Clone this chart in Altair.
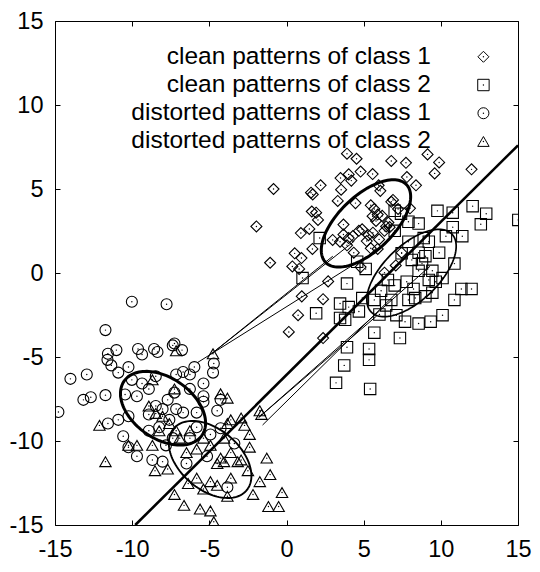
import altair as alt
import numpy as np
import pandas as pd

# ---------------- data ----------------
clean_class1 = [
    (3.92, 7.1), (4.54, 6.8), (6.79, 6.67), (7.74, 6.56), (9.14, 7.06), (9.89, 6.58),
    (9.6, 5.93), (11.99, 6.17), (4.8, 6.04), (5.58, 5.89), (4.03, 5.87), (3.5, 5.65),
    (4.2, 5.5), (7.8, 5.71), (8.39, 5.22), (-0.84, 5.0), (2.21, 5.22), (1.59, 4.78),
    (1.7, 4.68), (3.32, 4.29), (3.54, 4.96), (4.47, 4.16), (5.97, 5.22), (6.08, 4.89),
    (-1.95, 2.77), (1.92, 3.59), (1.64, 3.66), (2.04, 3.16), (1.48, 2.62), (0.93, 2.38),
    (3.69, 2.88), (2.99, 1.97), (4.69, 2.51), (4.03, 2.08), (5.31, 2.25), (1.68, 1.43),
    (0.53, 1.17), (0.97, 0.89), (0.38, 0.39), (0.82, 0.24), (-1.06, 0.61), (0.99, -1.39),
    (0.75, -2.51), (0.15, -3.51), (2.37, -1.56), (2.7, -0.5), (2.37, -3.87), (6.35, 0.02),
    (7.08, 0.45), (7.46, 1.21), (5.91, 1.43), (5.46, 1.47), (6.79, 4.24), (6.9, 4.35),
    (8.0, 3.85), (7.23, 3.81), (5.46, 4.03), (5.69, 3.81), (5.58, 3.38), (6.46, 2.77),
    (6.68, 2.73), (6.35, 2.51), (3.69, 2.29), (3.47, 1.86), (3.92, 1.65), (4.36, 1.21),
    (4.8, 0.35), (5.91, 3.48), (5.8, 3.1), (6.2, 3.4), (4.9, 2.6), (5.2, 1.9),
    (6.6, 3.0), (4.3, 2.2), (5.6, 2.4), (6.0, 2.0),
]
clean_class2 = [
    (15.02, 3.16), (12.06, 3.98), (12.94, 3.53), (12.59, 2.9), (10.77, 3.59), (9.78, 3.7),
    (11.39, 2.19), (10.77, 2.73), (10.33, 2.19), (7.9, 3.05), (7.42, 3.53), (7.01, 3.7),
    (7.01, 2.51), (8.56, 2.94), (8.89, 2.08), (9.22, 1.86), (2.15, 2.08), (7.46, 1.17),
    (8.56, 1.21), (8.78, 0.56), (9.89, 1.21), (10.88, 0.56), (10.11, -0.3), (9.67, -0.52),
    (9.22, -0.41), (11.33, -0.95), (11.99, -0.95), (10.88, -1.6), (10.11, -2.51), (9.34, -2.9),
    (8.56, -3.01), (7.68, -2.9), (7.35, -3.87), (7.12, -2.51), (6.02, -2.47), (6.13, -1.06),
    (5.69, -1.6), (4.91, -1.49), (4.69, -2.29), (4.03, -2.03), (3.47, -1.82), (3.47, -2.68),
    (3.8, -2.79), (1.92, -2.4), (3.92, -4.42), (5.69, -3.55), (5.35, -4.52), (5.35, -5.17),
    (3.74, -5.5), (3.21, -6.54), (5.42, -6.9), (1.04, -0.3), (4.58, 0.67), (5.13, 0.24),
    (3.92, -0.63), (6.57, -0.41), (7.01, -0.74), (7.79, -0.52), (8.23, -0.95), (8.34, -1.49),
    (9.0, -1.39), (9.45, 0.13), (8.12, 0.78), (8.56, 0.13), (6.79, -1.6), (6.46, -1.93),
    (7.9, -1.6), (9.45, -1.17), (9.0, 1.0), (7.9, 1.86),
]
distorted_class1 = [
    (-14.78, -8.27), (-14.0, -6.3), (-13.16, -7.55), (-12.94, -6.04), (-12.68, -7.4),
    (-11.73, -7.27), (-11.73, -3.4), (-11.57, -8.96), (-10.02, -1.71), (-7.77, -1.86),
    (-11.57, -4.81), (-11.6, -5.17), (-11.02, -4.59), (-11.35, -5.5), (-10.9, -5.93),
    (-10.24, -5.6), (-9.62, -4.52), (-9.36, -4.85), (-8.58, -4.52), (-8.36, -4.7),
    (-7.26, -4.2), (-6.77, -4.59), (-7.37, -4.31), (-6.7, -5.89), (-5.97, -5.6),
    (-5.38, -6.58), (-4.71, -5.39), (-4.76, -5.93), (-4.49, -8.2), (-4.27, -9.24),
    (-3.38, -10.15), (-3.83, -12.75), (-6.26, -6.04), (-7.15, -6.04), (-7.26, -7.12),
    (-8.92, -6.9), (-9.36, -6.58), (-8.47, -6.15), (-10.02, -6.36), (-9.69, -7.34),
    (-10.46, -7.23), (-10.24, -8.53), (-10.9, -8.74), (-10.58, -9.72), (-10.24, -10.37),
    (-9.69, -10.91), (-8.69, -11.13), (-8.03, -11.23), (-8.92, -9.39), (-8.25, -9.18),
    (-7.59, -8.74), (-7.15, -8.1), (-6.7, -8.31), (-5.82, -8.31), (-5.38, -7.66),
    (-6.26, -9.83), (-7.37, -9.83), (-5.82, -9.18), (-4.93, -9.61), (-5.15, -10.91),
    (-6.48, -11.34), (-7.81, -10.26), (-8.47, -7.92), (-7.7, -7.55), (-8.92, -8.42),
    (-8.03, -8.1), (-6.26, -6.9), (-5.38, -7.34), (-4.27, -7.55),
]
distorted_class2 = [
    (-12.12, -9.07), (-11.73, -11.23), (-10.24, -10.26), (-9.69, -10.26), (-8.69, -10.26),
    (-8.52, -11.77), (-8.69, -6.36), (-7.15, -4.63), (-7.26, -6.9), (-7.7, -11.67),
    (-7.26, -13.18), (-6.64, -13.83), (-6.37, -12.53), (-5.6, -14.05), (-4.93, -14.16),
    (-4.71, -14.81), (-4.76, -4.81), (-4.27, -7.19), (-3.83, -7.45), (-3.83, -8.96),
    (-3.61, -8.74), (-2.94, -8.63), (-2.72, -9.07), (-1.73, -8.2), (-1.62, -8.42),
    (-2.39, -9.61), (-2.39, -10.37), (-1.28, -11.02), (-1.06, -12.0), (-1.73, -12.42),
    (-2.17, -13.18), (-1.17, -13.9), (-0.51, -13.9), (-0.29, -13.07), (-2.5, -11.77),
    (-3.16, -11.23), (-3.61, -12.21), (-3.83, -13.29), (-4.49, -12.64), (-4.93, -12.42),
    (-5.38, -12.86), (-5.82, -12.21), (-4.05, -11.23), (-4.27, -11.02), (-4.49, -11.34),
    (-3.61, -10.69), (-2.94, -11.13), (-4.93, -10.26), (-4.05, -9.83), (-6.48, -10.69),
    (-6.92, -9.83), (-8.25, -9.39), (-8.03, -8.53), (-7.59, -8.96), (-7.15, -9.39),
    (-8.92, -7.92), (-8.47, -8.36), (-6.26, -9.39), (-5.38, -9.83), (-5.82, -10.48),
]

series_names = [
    "clean patterns of class 1",
    "clean patterns of class 2",
    "distorted patterns of class 1",
    "distorted patterns of class 2",
]
series_shapes = ["diamond", "square", "circle", "triangle-up"]
series_sizes = [121, 130, 121, 130]

# thin segments linking distorted patterns to clean ones
seg_start = [(-4.85, -4.8), (-4.85, -4.8), (-5.8, -5.35), (-1.8, -8.6), (-1.55, -9.05), (-1.8, -8.6)]
seg_end = [(3.0, 1.0), (4.4, 1.9), (4.7, 0.7), (9.3, 0.4), (7.45, -0.9), (5.85, -2.55)]

# thick separating line
sep_start = (-9.8, -15.0)
sep_end = (15.0, 7.6)

# ellipses: centre, semi-axes, rotation (degrees), stroke width
ell_cx = [5.15, 8.1, -8.0, -4.95]
ell_cy = [2.95, 0.0, -8.05, -11.1]
ell_a = [3.5, 3.5, 3.0, 3.0]
ell_b = [1.7, 1.7, 1.85, 1.85]
ell_rot = [40, 40, -30, -35]
ell_w = [3.0, 1.7, 3.0, 1.9]

# legend placement (data coordinates)
legend_y = [12.87, 11.19, 9.51, 7.83]
legend_text_x = 9.36
legend_sym_x = 12.76

ticks = [-15, -10, -5, 0, 5, 10, 15]
FONT = "Liberation Sans"

# ---------------- tables ----------------
pts = []
for name, shp, sz, data in zip(series_names, series_shapes, series_sizes,
                               [clean_class1, clean_class2, distorted_class1, distorted_class2]):
    for (x, y) in data:
        pts.append({"x": x, "y": y, "cls": name, "shape": shp, "size": sz})
pts = pd.DataFrame(pts)

segs = []
for i, (s, e) in enumerate(zip(seg_start, seg_end)):
    segs.append({"x": s[0], "y": s[1], "seg": i, "o": 0})
    segs.append({"x": e[0], "y": e[1], "seg": i, "o": 1})
segs = pd.DataFrame(segs)

sep = pd.DataFrame({"x": [sep_start[0], sep_end[0]], "y": [sep_start[1], sep_end[1]], "o": [0, 1]})

ell_rows = []
t = np.linspace(0, 2 * np.pi, 121)
for k in range(len(ell_cx)):
    th = np.deg2rad(ell_rot[k])
    ex = ell_cx[k] + ell_a[k] * np.cos(t) * np.cos(th) - ell_b[k] * np.sin(t) * np.sin(th)
    ey = ell_cy[k] + ell_a[k] * np.cos(t) * np.sin(th) + ell_b[k] * np.sin(t) * np.cos(th)
    for j in range(len(t)):
        ell_rows.append({"x": ex[j], "y": ey[j], "e": k, "o": j, "w": ell_w[k]})
ell = pd.DataFrame(ell_rows)

leg = pd.DataFrame({
    "tx": [legend_text_x] * 4, "sx": [legend_sym_x] * 4, "y": legend_y,
    "label": series_names, "shape": series_shapes, "size": series_sizes,
})

# ---------------- chart ----------------
xs = alt.Scale(domain=[-15, 15], nice=False, zero=False)
ys = alt.Scale(domain=[-15, 15], nice=False, zero=False)

common_axis = dict(values=ticks, grid=False, domain=False, tickSize=5, offset=-5,
                   tickColor="black", tickWidth=1, title=None, labelFlush=False,
                   labelOverlap=False, labelFont=FONT, labelFontSize=23.5, labelColor="black",
                   labelExpr="'' + datum.value")
x_bottom = alt.Axis(orient="bottom", labelPadding=12, **common_axis)
y_left = alt.Axis(orient="left", labelPadding=12, **common_axis)
x_top = alt.Axis(orient="top", labels=False, values=ticks, grid=False, domain=False, tickSize=5,
                 offset=-5, tickColor="black", title=None)
y_right = alt.Axis(orient="right", labels=False, values=ticks, grid=False, domain=False, tickSize=5,
                   offset=-5, tickColor="black", title=None)

seg_layer = alt.Chart(segs).mark_line(color="black", strokeWidth=1, clip=True).encode(
    x=alt.X("x:Q", scale=xs, axis=None), y=alt.Y("y:Q", scale=ys, axis=None),
    detail="seg:N", order="o:Q")

sep_layer = alt.Chart(sep).mark_line(color="black", strokeWidth=2.6, clip=True).encode(
    x=alt.X("x:Q", scale=xs, axis=None), y=alt.Y("y:Q", scale=ys, axis=None), order="o:Q")

ell_layer = alt.Chart(ell).mark_line(color="black", clip=True).encode(
    x=alt.X("x:Q", scale=xs, axis=None), y=alt.Y("y:Q", scale=ys, axis=None),
    detail="e:N", order="o:Q", strokeWidth=alt.StrokeWidth("w:Q", scale=None, legend=None))

pt_layer = alt.Chart(pts).mark_point(filled=False, color="black", strokeWidth=1.1, opacity=1, clip=True).encode(
    x=alt.X("x:Q", scale=xs, axis=x_bottom), y=alt.Y("y:Q", scale=ys, axis=y_left),
    shape=alt.Shape("shape:N", scale=None, legend=None),
    size=alt.Size("size:Q", scale=None, legend=None))

dot_layer = alt.Chart(pts).mark_circle(color="black", size=2, opacity=1, clip=True).encode(
    x=alt.X("x:Q", scale=xs, axis=x_top), y=alt.Y("y:Q", scale=ys, axis=y_right))

leg_text = alt.Chart(leg).mark_text(align="right", baseline="middle", font=FONT, fontSize=24.5,
                                    color="black").encode(
    x=alt.X("tx:Q", scale=xs, axis=None), y=alt.Y("y:Q", scale=ys, axis=None), text="label:N")

leg_sym = alt.Chart(leg).mark_point(filled=False, color="black", strokeWidth=1, opacity=1).encode(
    x=alt.X("sx:Q", scale=xs, axis=None), y=alt.Y("y:Q", scale=ys, axis=None),
    shape=alt.Shape("shape:N", scale=None, legend=None),
    size=alt.Size("size:Q", scale=None, legend=None))

leg_dot = alt.Chart(leg).mark_circle(color="black", size=2, opacity=1).encode(
    x=alt.X("sx:Q", scale=xs, axis=None), y=alt.Y("y:Q", scale=ys, axis=None))

chart = alt.layer(
    seg_layer, sep_layer, ell_layer, pt_layer, dot_layer, leg_text, leg_sym, leg_dot
).resolve_axis(x="independent", y="independent").properties(
    width=463, height=504,
    padding={"left": 47, "top": 13, "right": 14, "bottom": 37},
    autosize="none",
    background="white",
).configure_view(stroke="black", strokeWidth=1)

chart.save("out.html", embed_options={"renderer": "svg", "actions": False})
